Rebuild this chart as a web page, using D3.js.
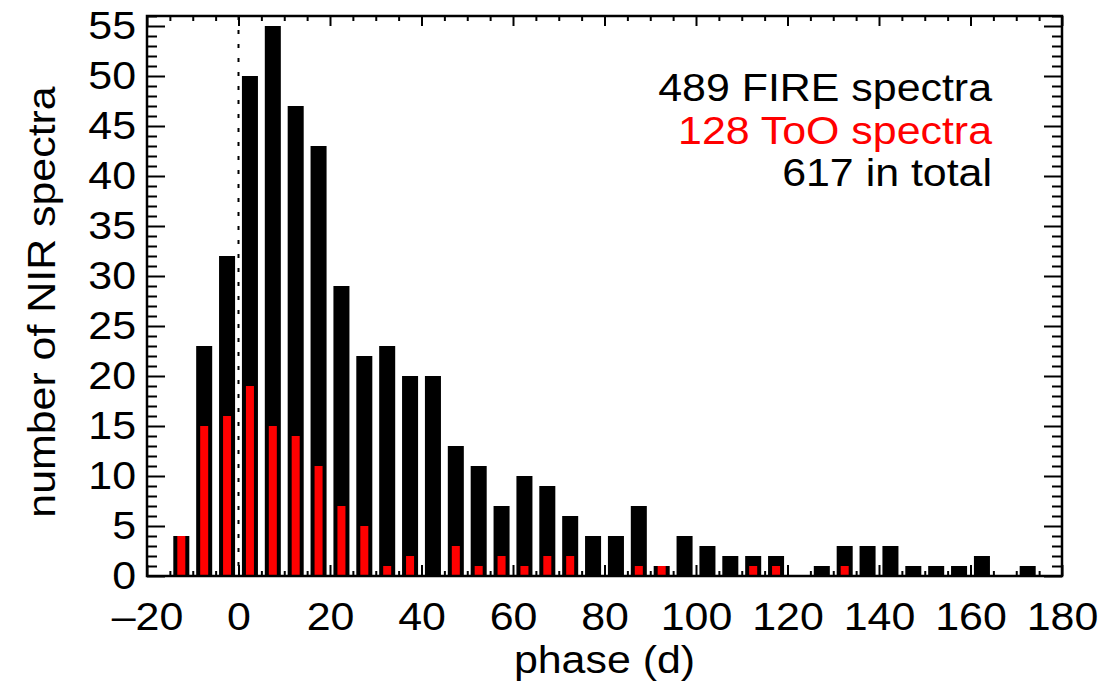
<!DOCTYPE html>
<html>
<head>
<meta charset="utf-8">
<script src="https://cdn.jsdelivr.net/npm/d3@7"></script>
<style>
  html, body { margin: 0; padding: 0; background: #fff; }
  svg { display: block; }
  text { font-family: "Liberation Sans", Arial, Helvetica, sans-serif; }
</style>
</head>
<body>
<svg id="chart" width="1115" height="684"></svg>
<script>
// ---- data ----
const binCenters = [-12.5, -7.5, -2.5, 2.5, 7.5, 12.5, 17.5, 22.5, 27.5, 32.5,
                    37.5, 42.5, 47.5, 52.5, 57.5, 62.5, 67.5, 72.5, 77.5, 82.5,
                    87.5, 92.5, 97.5, 102.5, 107.5, 112.5, 117.5, 122.5, 127.5, 132.5,
                    137.5, 142.5, 147.5, 152.5, 157.5, 162.5, 167.5, 172.5];
const fireCounts = [4, 23, 32, 50, 55, 47, 43, 29, 22, 23,
                    20, 20, 13, 11, 7, 10, 9, 6, 4, 4,
                    7, 1, 4, 3, 2, 2, 2, 0, 1, 3,
                    3, 3, 1, 1, 1, 2, 0, 1];
const tooCounts  = [4, 15, 16, 19, 15, 14, 11, 7, 5, 1,
                    2, 0, 3, 1, 2, 1, 2, 2, 0, 0,
                    1, 1, 0, 0, 0, 1, 1, 0, 0, 1,
                    0, 0, 0, 0, 0, 0, 0, 0];
const xTicks = [-20, 0, 20, 40, 60, 80, 100, 120, 140, 160, 180];
const yTicks = [0, 5, 10, 15, 20, 25, 30, 35, 40, 45, 50, 55];
const legendLines = [
  { text: "489 FIRE spectra", color: "#000000" },
  { text: "128 ToO spectra",  color: "#ff0000" },
  { text: "617 in total",     color: "#000000" }
];
const xLabel = "phase (d)";
const yLabel = "number of NIR spectra";

// ---- layout ----
const W = 1115, H = 684;
const margin = { left: 147, right: 53, top: 16, bottom: 108 };
const pw = W - margin.left - margin.right;
const ph = H - margin.top - margin.bottom;
const FS = 39, SX = 1.1;

const svg = d3.select("#chart");
const g = svg.append("g").attr("transform", `translate(${margin.left},${margin.top})`);

const x = d3.scaleLinear().domain([-20, 180]).range([0, pw]);
const y = d3.scaleLinear().domain([0, 56]).range([ph, 0]);

const blackHalf = 1.75, redHalf = 0.875;
const bins = binCenters.map((c, i) => ({ c, fire: fireCounts[i], too: tooCounts[i] }));

// black bars (FIRE)
g.append("g").selectAll("rect").data(bins.filter(d => d.fire > 0)).join("rect")
  .attr("x", d => x(d.c - blackHalf))
  .attr("width", d => x(d.c + blackHalf) - x(d.c - blackHalf))
  .attr("y", d => y(d.fire))
  .attr("height", d => y(0) - y(d.fire))
  .attr("fill", "#000");

// red bars (ToO)
g.append("g").selectAll("rect").data(bins.filter(d => d.too > 0)).join("rect")
  .attr("x", d => x(d.c - redHalf))
  .attr("width", d => x(d.c + redHalf) - x(d.c - redHalf))
  .attr("y", d => y(d.too))
  .attr("height", d => y(0) - y(d.too))
  .attr("fill", "#ff0000");

// dotted line at phase 0
g.append("line")
  .attr("x1", x(0)).attr("x2", x(0))
  .attr("y1", 0).attr("y2", ph)
  .attr("stroke", "#000").attr("stroke-width", 2)
  .attr("stroke-dasharray", "4,10");

// ---- axes ----
const fmtX = d => d < 0 ? "\u2013" + Math.abs(d) : String(d);
const xMinor = d3.range(-20, 181, 5).filter(v => !xTicks.includes(v));
const yMinor = d3.range(0, 57, 1).filter(v => !yTicks.includes(v));

function styleAxis(sel) {
  sel.select(".domain").remove();
  sel.selectAll("line").attr("stroke", "#000").attr("stroke-width", 2);
  sel.selectAll("text").attr("font-size", FS).attr("fill", "#000")
     .attr("font-family", "Liberation Sans, Arial, sans-serif")
     .attr("transform", `scale(${SX},1)`);
}

// bottom
g.append("g").attr("transform", `translate(0,${ph})`)
  .call(d3.axisBottom(x).tickValues(xMinor).tickSize(-5).tickFormat("").tickSizeOuter(0))
  .call(styleAxis);
g.append("g").attr("transform", `translate(0,${ph})`)
  .call(d3.axisBottom(x).tickValues(xTicks).tickSize(-11).tickPadding(26).tickFormat(fmtX).tickSizeOuter(0))
  .call(styleAxis);
// top
g.append("g")
  .call(d3.axisTop(x).tickValues(xMinor).tickSize(-5).tickFormat("").tickSizeOuter(0))
  .call(styleAxis);
g.append("g")
  .call(d3.axisTop(x).tickValues(xTicks).tickSize(-10).tickFormat("").tickSizeOuter(0))
  .call(styleAxis);
// left
g.append("g")
  .call(d3.axisLeft(y).tickValues(yMinor).tickSize(-10).tickFormat("").tickSizeOuter(0))
  .call(styleAxis);
g.append("g")
  .call(d3.axisLeft(y).tickValues(yTicks).tickSize(-18).tickPadding(10).tickFormat(d => String(d)).tickSizeOuter(0))
  .call(styleAxis);
// right
g.append("g").attr("transform", `translate(${pw},0)`)
  .call(d3.axisRight(y).tickValues(yMinor).tickSize(-10).tickFormat("").tickSizeOuter(0))
  .call(styleAxis);
g.append("g").attr("transform", `translate(${pw},0)`)
  .call(d3.axisRight(y).tickValues(yTicks).tickSize(-18).tickFormat("").tickSizeOuter(0))
  .call(styleAxis);

// frame
g.append("rect").attr("x", 0).attr("y", 0).attr("width", pw).attr("height", ph)
  .attr("fill", "none").attr("stroke", "#000").attr("stroke-width", 2.5);

// ---- labels ----
svg.append("text")
  .attr("transform", `translate(${margin.left + x(80)},673) scale(${SX},1)`)
  .attr("text-anchor", "middle").attr("font-size", FS).attr("fill", "#000")
  .text(xLabel);

svg.append("text")
  .attr("transform", `translate(55,302) rotate(-90) scale(${SX},1)`)
  .attr("text-anchor", "middle").attr("font-size", FS).attr("fill", "#000")
  .text(yLabel);

// legend text
svg.append("g").selectAll("text").data(legendLines).join("text")
  .attr("transform", (d, i) => `translate(992,${101 + i * 42.5}) scale(${SX},1)`)
  .attr("text-anchor", "end").attr("font-size", FS)
  .attr("fill", d => d.color)
  .text(d => d.text);
</script>
</body>
</html>
